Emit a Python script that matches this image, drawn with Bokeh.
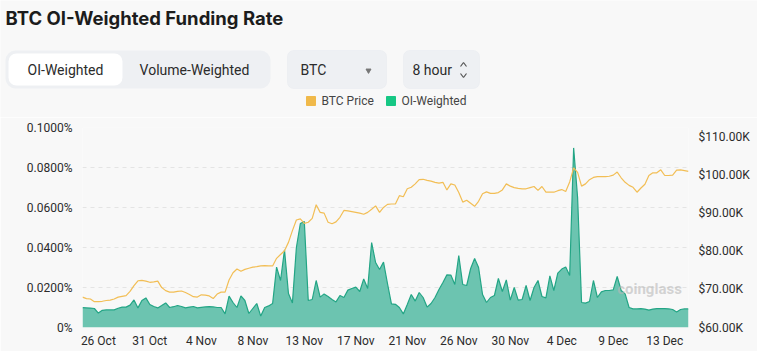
from bokeh.plotting import figure
from bokeh.models import Range1d, LinearAxis, FixedTicker, BoxAnnotation, Label, ColumnDataSource
from bokeh.layouts import column
from bokeh.embed import file_html
from bokeh.resources import INLINE

# ---- data (8-hour intervals, 25 Oct 08:00 -> 15 Dec 08:00) ----
funding = [
    0.0099, 0.0098, 0.0097, 0.0095, 0.0072, 0.0086, 0.0088, 0.0088, 0.0088, 0.0096,
    0.0102, 0.0102, 0.0112, 0.0138, 0.0098, 0.0135, 0.0148, 0.0115, 0.0105, 0.0098,
    0.0110, 0.0123, 0.0100, 0.0104, 0.0110, 0.0105, 0.0098, 0.0102, 0.0105, 0.0098,
    0.0101, 0.0103, 0.0104, 0.0103, 0.0100, 0.0100, 0.0068, 0.0157, 0.0125, 0.0100,
    0.0158, 0.0135, 0.0070, 0.0095, 0.0120, 0.0057, 0.0100, 0.0108, 0.0120, 0.0302,
    0.0235, 0.0388, 0.0170, 0.0123, 0.0400, 0.0520, 0.0530, 0.0135, 0.0140, 0.0235,
    0.0152, 0.0168, 0.0155, 0.0140, 0.0128, 0.0160, 0.0150, 0.0187, 0.0195, 0.0202,
    0.0180, 0.0243, 0.0195, 0.0425, 0.0325, 0.0290, 0.0327, 0.0220, 0.0118, 0.0116,
    0.0100, 0.0068, 0.0115, 0.0165, 0.0132, 0.0175, 0.0150, 0.0102, 0.0120, 0.0150,
    0.0190, 0.0225, 0.0263, 0.0262, 0.0215, 0.0360, 0.0215, 0.0210, 0.0295, 0.0345,
    0.0300, 0.0165, 0.0125, 0.0150, 0.0160, 0.0245, 0.0180, 0.0238, 0.0137, 0.0200,
    0.0137, 0.0140, 0.0210, 0.0135, 0.0200, 0.0235, 0.0155, 0.0148, 0.0258, 0.0185,
    0.0272, 0.0292, 0.0303, 0.0260, 0.0898, 0.0650, 0.0125, 0.0122, 0.0130, 0.0235,
    0.0150, 0.0178, 0.0185, 0.0185, 0.0188, 0.0255, 0.0185, 0.0168, 0.0100, 0.0093,
    0.0093, 0.0094, 0.0092, 0.0087, 0.0092, 0.0094, 0.0095, 0.0094, 0.0093, 0.0090,
    0.0078, 0.0090, 0.0093, 0.0093,
]
price_k = [
    68.0, 67.6, 67.5, 66.8, 66.8, 66.9, 67.1, 67.2, 67.5, 68.0,
    68.2, 68.4, 69.5, 71.0, 72.3, 72.4, 72.2, 71.9, 72.0, 72.2,
    70.5, 69.7, 69.3, 69.3, 69.5, 69.6, 69.2, 68.7, 68.1, 68.0,
    68.6, 68.5, 68.3, 67.6, 68.8, 69.3, 69.3, 72.5, 74.4, 75.4,
    74.8, 75.3, 75.6, 75.9, 76.0, 76.2, 76.3, 76.2, 76.2, 78.2,
    79.2, 80.2, 82.4, 85.5, 88.3, 88.6, 87.4, 87.7, 88.7, 92.3,
    90.3, 90.1, 87.7, 87.3, 87.8, 89.0, 90.8, 90.7, 90.5, 90.3,
    90.1, 89.8, 90.3, 91.1, 92.0, 90.3, 91.6, 92.4, 92.5, 92.5,
    94.7, 94.4, 96.5, 96.9, 97.8, 98.9, 99.0, 98.7, 98.5, 98.2,
    98.0, 98.2, 96.2, 97.8, 97.5, 95.5, 93.0, 93.5, 92.7, 91.9,
    93.2, 95.2, 95.7, 95.3, 95.3, 95.5, 96.2, 97.8, 97.2, 96.8,
    96.6, 96.5, 96.5, 96.8, 97.1, 96.1, 97.1, 95.6, 95.6, 95.6,
    96.0, 96.3, 95.8, 98.3, 102.0, 100.8, 97.2, 97.8, 98.9, 99.5,
    99.7, 99.7, 99.7, 99.8, 100.1, 100.9, 99.4, 98.2, 97.4, 96.9,
    95.6, 96.7, 97.7, 100.0, 100.7, 100.7, 101.5, 100.0, 100.0, 100.1,
    101.4, 101.5, 101.3, 101.1,
]
date_tick_idx = [4, 17, 30, 43, 56, 69, 82, 95, 108, 121, 134, 147]
date_tick_labels = ["26 Oct", "31 Oct", "4 Nov", "8 Nov", "13 Nov", "17 Nov",
                    "21 Nov", "26 Nov", "30 Nov", "4 Dec", "9 Dec", "13 Dec"]
rate_ticks = [0, 0.02, 0.04, 0.06, 0.08, 0.1]
rate_labels = ["0%", "0.0200%", "0.0400%", "0.0600%", "0.0800%", "0.1000%"]
price_ticks = [60, 70, 80, 90, 100, 110]
price_labels = ["$60.00K", "$70.00K", "$80.00K", "$90.00K", "$100.00K", "$110.00K"]

BG = "#f8f8f8"
FONT = "Roboto"
HDR_H = 117

# ---- header (data x == page pixel x, data y == HDR_H - page pixel y) ----
hdr = figure(width=757, height=HDR_H, x_range=Range1d(0, 757), y_range=Range1d(0, HDR_H),
             x_axis_type=None, y_axis_type=None, output_backend="svg",
             toolbar_location=None, min_border=0, frame_align=False)
hdr.grid.visible = False
hdr.outline_line_color = None
hdr.background_fill_color = BG
hdr.border_fill_color = BG


def T(y):
    return HDR_H - y


hdr.add_layout(Label(x=5, y=T(17), text="BTC OI-Weighted Funding Rate", text_font="Inter",
                     text_font_size="18.5px", text_font_style="bold", text_color="#1c1c1c",
                     text_baseline="middle"))
for l, r, t, b, fc, lc, rad in [(5, 270, 50, 88, "#eef0f3", None, 10),
                                (8, 122, 53, 85, "#ffffff", None, 8),
                                (287, 386, 50, 88, "#eef0f3", "#e2e5ea", 6),
                                (403, 479, 50, 88, "#eef0f3", "#e2e5ea", 6)]:
    hdr.add_layout(BoxAnnotation(left=l, right=r, top=T(t), bottom=T(b), fill_color=fc,
                                 fill_alpha=1, line_color=lc, line_width=1, border_radius=rad,
                                 level="underlay"))
for x, txt, al in [(65, "OI-Weighted", "center"), (194, "Volume-Weighted", "center"),
                   (300, "BTC", "left"), (412, "8 hour", "left")]:
    hdr.add_layout(Label(x=x, y=T(69), text=txt, text_font=FONT, text_font_size="14px",
                         text_color="#2b2b2b", text_align=al, text_baseline="middle"))
hdr.scatter([368], [T(70)], marker="inverted_triangle", size=5, color="#777777")
hdr.multi_line([[460, 463, 466], [460, 463, 466]], [[T(66), T(62), T(66)], [T(73), T(77), T(73)]],
               line_color="#555555", line_width=1.2)
# legend
hdr.scatter([310.5], [T(100.5)], marker="square", size=9, color="#f0b94a")
hdr.scatter([390.5], [T(100.5)], marker="square", size=9, color="#16c784")
hdr.add_layout(Label(x=321, y=T(100.5), text="BTC Price", text_font=FONT, text_font_size="12px",
                     text_color="#444444", text_baseline="middle"))
hdr.add_layout(Label(x=401, y=T(100.5), text="OI-Weighted", text_font=FONT, text_font_size="12px",
                     text_color="#444444", text_baseline="middle"))

# ---- chart ----
n = len(funding)
src = ColumnDataSource(dict(x=list(range(n)), rate=funding, price=price_k))

p = figure(width=757, height=351 - HDR_H, x_range=Range1d(0, n - 1), y_range=Range1d(0, 0.1),
           output_backend="svg", toolbar_location=None, frame_align=False,
           min_border_left=82, min_border_right=69, min_border_top=10, min_border_bottom=24)
p.extra_y_ranges = {"price": Range1d(60, 112.63)}
p.background_fill_color = BG
p.border_fill_color = BG
p.outline_line_color = None
p.xgrid.visible = False
p.ygrid.grid_line_color = "#e4e4e4"
p.ygrid.grid_line_dash = "4 4"
p.ygrid.ticker = FixedTicker(ticks=rate_ticks)

p.varea(x="x", y1=0, y2="rate", source=src, fill_color="#6cc4b0", fill_alpha=1)
p.line(x="x", y="rate", source=src, line_color="#23a585", line_width=1.2)
p.line(x="x", y="price", source=src, y_range_name="price", line_color="#f2be55", line_width=1.2)

# watermark
p.add_layout(Label(x=135, y=0.0195, text="coinglass",
                   text_font=FONT, text_font_size="15px", text_font_style="bold",
                   text_color="#b8b8b8", text_alpha=0.6, text_baseline="middle"))

# axes
xa = p.xaxis[0]
xa.ticker = FixedTicker(ticks=date_tick_idx)
xa.major_label_overrides = dict(zip(date_tick_idx, date_tick_labels))
ya = p.yaxis[0]
ya.ticker = FixedTicker(ticks=rate_ticks)
ya.major_label_overrides = dict(zip(rate_ticks, rate_labels))
ra = LinearAxis(y_range_name="price", ticker=FixedTicker(ticks=price_ticks),
                major_label_overrides=dict(zip(price_ticks, price_labels)))
p.add_layout(ra, "right")
for ax in [xa, ya, ra]:
    ax.axis_line_color = None
    ax.major_tick_line_color = None
    ax.minor_tick_line_color = None
    ax.major_tick_out = 0
    ax.major_tick_in = 0
    ax.major_label_text_font = FONT
    ax.major_label_text_font_size = "12px"
    ax.major_label_text_color = "#2b2b2b"
xa.major_label_standoff = 6
ya.major_label_standoff = 10
ra.major_label_standoff = 10

layout = column(hdr, p, spacing=0)
open("out.html", "w").write(file_html(layout, INLINE))
